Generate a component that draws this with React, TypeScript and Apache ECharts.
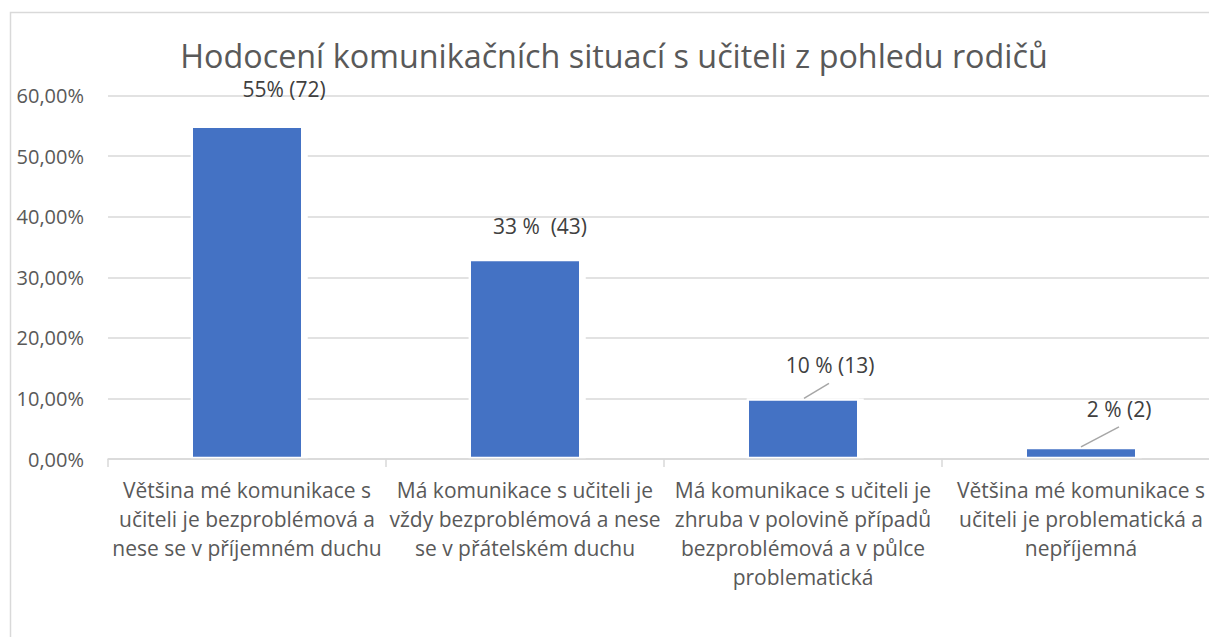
import React, { useEffect, useRef } from "react";
import * as echarts from "echarts";

const titleText = "Hodocení komunikačních situací s učiteli z pohledu rodičů";
const categories = [
  "Většina mé komunikace s\nučiteli je bezproblémová a\nnese se v příjemném duchu",
  "Má komunikace s učiteli je\nvždy bezproblémová a nese\nse v přátelském duchu",
  "Má komunikace s učiteli je\nzhruba v polovině případů\nbezproblémová a v půlce\nproblematická",
  "Většina mé komunikace s\nučiteli je problematická a\nnepříjemná",
];
const shares = [0.55, 0.33, 0.1, 0.02];
const dataLabels = ["55% (72)", "33 %\u00a0\u00a0(43)", "10 % (13)", "2 % (2)"];
const yMin = 0;
const yMax = 0.6;
const yStep = 0.1;

const FONT = "'Open Sans', sans-serif";

// label shifts (layout only) and leader line offsets
const labelShift: [number, number][] = [
  [37, -21],
  [15, -18],
  [27, -18],
  [38, -22],
];
const leaderOffsets: (number[] | null)[] = [null, null, [1, 0, 26, -15], [0, 0, 38, -20]];

const fmtPct = (v: number) => (v * 100).toFixed(2).replace(".", ",") + "%";

export default function App() {
  const ref = useRef<HTMLDivElement>(null);
  useEffect(() => {
    if (!ref.current) return;
    const chart = echarts.init(ref.current, null, { renderer: "svg" });
    chart.setOption({
      animation: false,
      backgroundColor: "#ffffff",
      title: {
        text: titleText,
        left: "center",
        top: 34,
        textStyle: { fontFamily: FONT, fontSize: 32.3, fontWeight: "normal", color: "#595959" },
      },
      graphic: [
        {
          type: "rect",
          shape: { x: 10.5, y: 12.5, width: 1400, height: 800 },
          style: { fill: "none", stroke: "#d9d9d9", lineWidth: 1.5 },
          silent: true,
          z: -1,
        },
      ],
      grid: { left: 108, right: 8, top: 95.5, bottom: 178, containLabel: false, outerBoundsMode: "none" },
      xAxis: {
        type: "category",
        data: categories,
        z: 4,
        axisLine: { show: true, lineStyle: { color: "#d9d9d9", width: 1.5 } },
        axisTick: { show: true, length: 8, lineStyle: { color: "#d9d9d9", width: 1.5 } },
        axisLabel: {
          interval: 0,
          color: "#595959",
          fontFamily: FONT,
          fontSize: 21,
          lineHeight: 29,
          margin: 16,
          align: "center",
        },
      },
      yAxis: {
        type: "value",
        min: yMin,
        max: yMax,
        interval: yStep,
        axisLine: { show: false },
        axisTick: { show: false },
        splitLine: { lineStyle: { color: "#d9d9d9", width: 1.5 } },
        axisLabel: {
          formatter: (v: number) => fmtPct(v),
          color: "#595959",
          fontFamily: FONT,
          fontSize: 20,
          margin: 24,
        },
      },
      series: [
        {
          // white halo behind the bars (gap in gridlines)
          type: "bar",
          data: shares,
          barWidth: 117,
          barGap: "-100%",
          silent: true,
          itemStyle: { color: "#ffffff" },
          z: 1,
        },
        {
          type: "bar",
          data: shares,
          barWidth: 112.5,
          barGap: "-100%",
          itemStyle: { color: "#4472c4", borderColor: "#ffffff", borderWidth: 2.25 },
          label: {
            show: true,
            position: "top",
            distance: 5,
            formatter: (p: any) => dataLabels[p.dataIndex],
            color: "#404040",
            fontFamily: FONT,
            fontSize: 21,
          },
          labelLayout: (p: any) => ({ dx: labelShift[p.dataIndex][0], dy: labelShift[p.dataIndex][1] }),
          z: 2,
        },
        {
          type: "custom",
          z: 5,
          silent: true,
          data: shares.map((v, i) => [i, v]),
          renderItem: (params: any, api: any) => {
            const i = api.value(0);
            const off = leaderOffsets[i];
            if (!off) return null;
            const p = api.coord([i, api.value(1)]);
            return {
              type: "line",
              shape: { x1: p[0] + off[0], y1: p[1] + off[1], x2: p[0] + off[2], y2: p[1] + off[3] },
              style: { stroke: "#a6a6a6", lineWidth: 1.5 },
            };
          },
        },
      ],
    });
    return () => chart.dispose();
  }, []);
  return (
    <div style={{ position: "fixed", left: 0, top: 0, width: 1209, height: 637, overflow: "hidden", background: "#fff" }}>
      <div ref={ref} style={{ width: 1228, height: 637 }} />
    </div>
  );
}
